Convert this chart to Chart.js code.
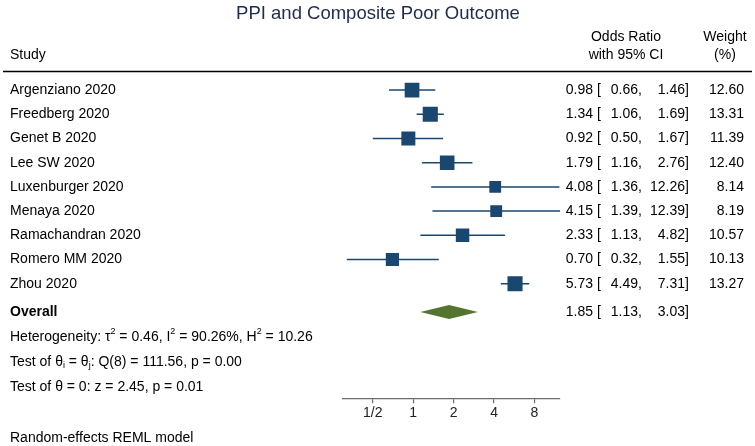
<!DOCTYPE html>
<html>
<head>
<meta charset="utf-8">
<script src="https://cdn.jsdelivr.net/npm/chart.js@4"></script>
<style>
  html, body { margin: 0; padding: 0; background: #fff; }
  #wrap { width: 755px; height: 446px; }
</style>
</head>
<body>
<div id="wrap"><canvas id="forest"></canvas></div>
<script>
// study rows
const studies = ['Argenziano 2020', 'Freedberg 2020', 'Genet B 2020', 'Lee SW 2020', 'Luxenburger 2020',
    'Menaya 2020', 'Ramachandran 2020', 'Romero MM 2020', 'Zhou 2020'];
const oddsRatio = [0.98, 1.34, 0.92, 1.79, 4.08, 4.15, 2.33, 0.70, 5.73];
const ciLow = [0.66, 1.06, 0.50, 1.16, 1.36, 1.39, 1.13, 0.32, 4.49];
const ciHigh = [1.46, 1.69, 1.67, 2.76, 12.26, 12.39, 4.82, 1.55, 7.31];
const weights = [12.60, 13.31, 11.39, 12.40, 8.14, 8.19, 10.57, 10.13, 13.27];

// pooled estimate + stats
const overallOR = 1.85;
const overallLow = 1.13;
const overallHigh = 3.03;
const tau2 = '0.46', i2 = '90.26', h2 = '10.26';
const qDf = 8, qStat = '111.56', qP = '0.00';
const zStat = '2.45', zP = '0.01';

const xTicks = [0.5, 1, 2, 4, 8];
const xTickLabels = ['1/2', '1', '2', '4', '8'];

const FONT = '"Liberation Sans", Arial, Helvetica, sans-serif';
const NAVY = '#1a476f';
const GREEN = '#55752f';

const overallRow = studies.length + 0.17;
const statStep = 1.03;

// CI whiskers, one small line per study
const ciSets = studies.map((s, i) => ({
    type: 'line',
    data: [{ x: ciLow[i], y: i }, { x: ciHigh[i], y: i }],
    borderColor: NAVY,
    borderWidth: 1.5,
    pointRadius: 0,
    showLine: true,
    order: 2
}));

function drawRich(ctx, x, y, parts) {
    let cx = x;
    parts.forEach(p => {
        const txt = typeof p === 'string' ? p : p[0];
        const mode = typeof p === 'string' ? '' : p[1];
        let dy = 0;
        ctx.font = (mode ? '9px ' : '14px ') + FONT;
        if (mode === 'sup') dy = -5;
        if (mode === 'sub') dy = 4;
        ctx.fillText(txt, cx, y + dy);
        cx += ctx.measureText(txt).width;
    });
}

const textPlugin = {
    id: 'forestText',
    afterDatasetsDraw(chart) {
        const ctx = chart.ctx;
        const xs = chart.scales.x, ys = chart.scales.y;

        // pooled diamond
        const yo = ys.getPixelForValue(overallRow);
        ctx.save();
        ctx.fillStyle = GREEN;
        ctx.beginPath();
        ctx.moveTo(xs.getPixelForValue(overallLow), yo);
        ctx.lineTo(xs.getPixelForValue(overallOR), yo - 7);
        ctx.lineTo(xs.getPixelForValue(overallHigh), yo);
        ctx.lineTo(xs.getPixelForValue(overallOR), yo + 7);
        ctx.closePath();
        ctx.fill();
        ctx.restore();
    },
    afterDraw(chart) {
        const ctx = chart.ctx;
        const ys = chart.scales.y;
        ctx.save();
        ctx.textBaseline = 'middle';

        // title
        ctx.fillStyle = '#1e2b4a';
        ctx.font = '18.5px ' + FONT;
        ctx.textAlign = 'center';
        ctx.fillText('PPI and Composite Poor Outcome', 378, 14);

        // header
        ctx.fillStyle = '#000';
        ctx.font = '14px ' + FONT;
        ctx.fillText('Odds Ratio', 626, 37);
        ctx.fillText('with 95% CI', 626, 55);
        ctx.fillText('Weight', 725, 37);
        ctx.fillText('(%)', 725, 55);
        ctx.textAlign = 'left';
        ctx.fillText('Study', 10, 55);

        ctx.strokeStyle = '#000';
        ctx.lineWidth = 1.5;
        ctx.beginPath();
        ctx.moveTo(3, 71.5);
        ctx.lineTo(752, 71.5);
        ctx.stroke();

        const numRow = (y, est, lo, hi, w) => {
            ctx.textAlign = 'right';
            ctx.fillText(est.toFixed(2), 593, y);
            ctx.fillText(lo.toFixed(2), 638, y);
            ctx.fillText(hi.toFixed(2), 685, y);
            if (w !== null) ctx.fillText(w.toFixed(2), 744, y);
            ctx.textAlign = 'left';
            ctx.fillText('[', 597, y);
            ctx.fillText(',', 638, y);
            ctx.fillText(']', 685, y);
        };

        studies.forEach((s, i) => {
            const y = ys.getPixelForValue(i);
            ctx.font = '14px ' + FONT;
            ctx.textAlign = 'left';
            ctx.fillText(s, 10, y);
            numRow(y, oddsRatio[i], ciLow[i], ciHigh[i], weights[i]);
        });

        const yo = ys.getPixelForValue(overallRow);
        ctx.font = 'bold 14px ' + FONT;
        ctx.textAlign = 'left';
        ctx.fillText('Overall', 10, yo);
        ctx.font = '14px ' + FONT;
        numRow(yo, overallOR, overallLow, overallHigh, null);

        ctx.textAlign = 'left';
        drawRich(ctx, 10, ys.getPixelForValue(overallRow + statStep), [
            'Heterogeneity: \u03C4', ['2', 'sup'], ' = ' + tau2 + ', I', ['2', 'sup'],
            ' = ' + i2 + '%, H', ['2', 'sup'], ' = ' + h2
        ]);
        drawRich(ctx, 10, ys.getPixelForValue(overallRow + statStep * 2), [
            'Test of \u03B8', ['i', 'sub'], ' = \u03B8', ['j', 'sub'],
            ': Q(' + qDf + ') = ' + qStat + ', p = ' + qP
        ]);
        drawRich(ctx, 10, ys.getPixelForValue(overallRow + statStep * 3), [
            'Test of \u03B8 = 0: z = ' + zStat + ', p = ' + zP
        ]);

        ctx.font = '14px ' + FONT;
        ctx.fillText('Random-effects REML model', 10, 438);
        ctx.restore();
    }
};

const chart = new Chart(document.getElementById('forest'), {
    type: 'scatter',
    data: {
        datasets: [{
            label: 'Odds ratio',
            data: studies.map((s, i) => ({ x: oddsRatio[i], y: i })),
            pointStyle: 'rect',
            pointRadius: weights.map(w => 2.93 * Math.sqrt(w)),
            pointHoverRadius: weights.map(w => 2.93 * Math.sqrt(w)),
            backgroundColor: NAVY,
            borderWidth: 0,
            order: 1
        }, ...ciSets]
    },
    options: {
        responsive: true,
        maintainAspectRatio: false,
        animation: false,
        layout: { autoPadding: false, padding: { left: 343, right: 195, top: 0, bottom: 22 } },
        plugins: {
            legend: { display: false },
            tooltip: { enabled: false },
            title: { display: false }
        },
        scales: {
            x: {
                type: 'logarithmic',
                position: 'bottom',
                min: Math.min(...ciLow),
                max: Math.max(...ciHigh),
                afterBuildTicks: scale => {
                    scale.ticks = xTicks.map(v => ({ value: v }));
                },
                ticks: {
                    autoSkip: false,
                    maxRotation: 0,
                    padding: 2,
                    color: '#222',
                    font: { family: FONT, size: 14 },
                    callback: (v) => {
                        const k = xTicks.indexOf(v);
                        return k >= 0 ? xTickLabels[k] : '';
                    }
                },
                grid: { drawOnChartArea: false, drawTicks: true, tickLength: 5, color: '#6e6e6e', lineWidth: 1.2 },
                border: { display: true, color: '#6e6e6e', width: 1.2 }
            },
            y: {
                type: 'linear',
                display: false,
                reverse: true,
                min: -90 / 24.2,
                max: (398 - 90) / 24.2
            }
        }
    },
    plugins: [textPlugin]
});
</script>
</body>
</html>
